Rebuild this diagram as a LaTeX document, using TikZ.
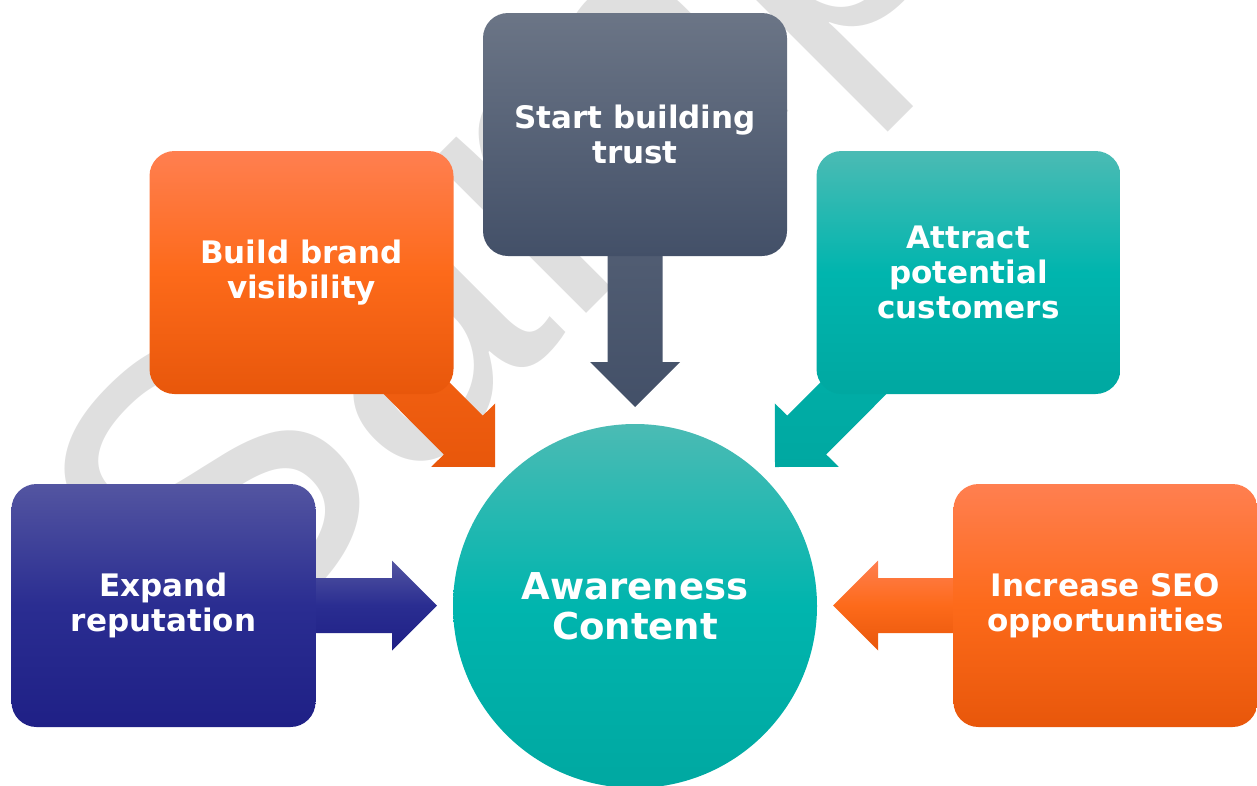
\documentclass[tikz,border=0pt]{standalone}
\usepackage{fontspec}
\setmainfont{DejaVu Sans}
\newfontfamily\wmfont{Liberation Sans}
\usetikzlibrary{calc}
\definecolor{wmgray}{HTML}{DFDFDF}
\definecolor{slateT}{HTML}{6B7586}
\definecolor{slateB}{HTML}{435068}
\definecolor{oraT}{HTML}{FF7F50}
\definecolor{oraM}{HTML}{FD6A1A}
\definecolor{oraB}{HTML}{E8570B}
\definecolor{tealT}{HTML}{4BBBB4}
\definecolor{tealM}{HTML}{00B5AE}
\definecolor{tealB}{HTML}{00A8A1}
\definecolor{navyT}{HTML}{5355A1}
\definecolor{navyM}{HTML}{2A2D91}
\definecolor{navyB}{HTML}{1F2086}
\newcommand\blockarrow[3]{%
  \path ($(#3)!45pt!(#2)$) coordinate (hb);
  \shade[#1] ($(#2)!27.5pt!90:(#3)$) -- ($(hb)!27.5pt!90:(#3)$) -- ($(hb)!45pt!90:(#3)$) -- (#3)
    -- ($(hb)!45pt!-90:(#3)$) -- ($(hb)!27.5pt!-90:(#3)$) -- ($(#2)!27.5pt!-90:(#3)$) -- cycle;
}
\tikzset{
  card/.style={rounded corners=25pt, minimum width=304pt, minimum height=243pt, inner sep=0pt,
    align=center, text=white, font=\fontsize{31}{35}\selectfont\bfseries},
  orangecard/.style={card, top color=oraT, bottom color=oraB, middle color=oraM},
  tealcard/.style={card, top color=tealT, bottom color=tealB, middle color=tealM},
}
\begin{document}
\begin{tikzpicture}[x=1pt,y=-1pt]
\useasboundingbox (0,0) rectangle (1257,785);
% watermark
\node[rotate=45, anchor=base west, inner sep=0pt, text=wmgray, font=\fontsize{410}{410}\selectfont\wmfont] (wm) at (212,688) {Sample};
% nodes (positions)
\coordinate (trustC) at (635,134.5);
\coordinate (brandC) at (301.5,272.5);
\coordinate (attractC) at (968.5,272.5);
\coordinate (expandC) at (163.5,605.5);
\coordinate (seoC) at (1105.5,605.5);
\coordinate (tipT) at (635,407);
\coordinate (tipB) at (495,467);
\coordinate (tipA) at (775,467);
\coordinate (tipE) at (437,605.5);
\coordinate (tipS) at (833,605.5);
% arrows
\blockarrow{top color=slateT!60!slateB, bottom color=slateB}{trustC}{tipT}
\blockarrow{top color=oraM, bottom color=oraB}{brandC}{tipB}
\blockarrow{top color=tealM, bottom color=tealB}{attractC}{tipA}
\blockarrow{top color=navyT, bottom color=navyB, middle color=navyM}{expandC}{tipE}
\blockarrow{top color=oraT, bottom color=oraB, middle color=oraM}{seoC}{tipS}
% boxes
\node[card, top color=slateT, bottom color=slateB] (trust) at (trustC) {Start building\\trust};
\node[orangecard] (brand) at (brandC) {Build brand\\visibility};
\node[tealcard] (attract) at (attractC) {Attract\\potential\\customers};
\node[card, top color=navyT, bottom color=navyB, middle color=navyM] (expand) at (expandC) {Expand\\reputation};
\node[orangecard] (seo) at (seoC) {Increase SEO\\opportunities};
\node[circle, minimum size=364pt, inner sep=0pt, top color=tealT, bottom color=tealB, middle color=tealM,
  align=center, text=white, font=\fontsize{37}{40}\selectfont\bfseries] (core) at (635,606) {Awareness\\Content};
\end{tikzpicture}
\end{document}
